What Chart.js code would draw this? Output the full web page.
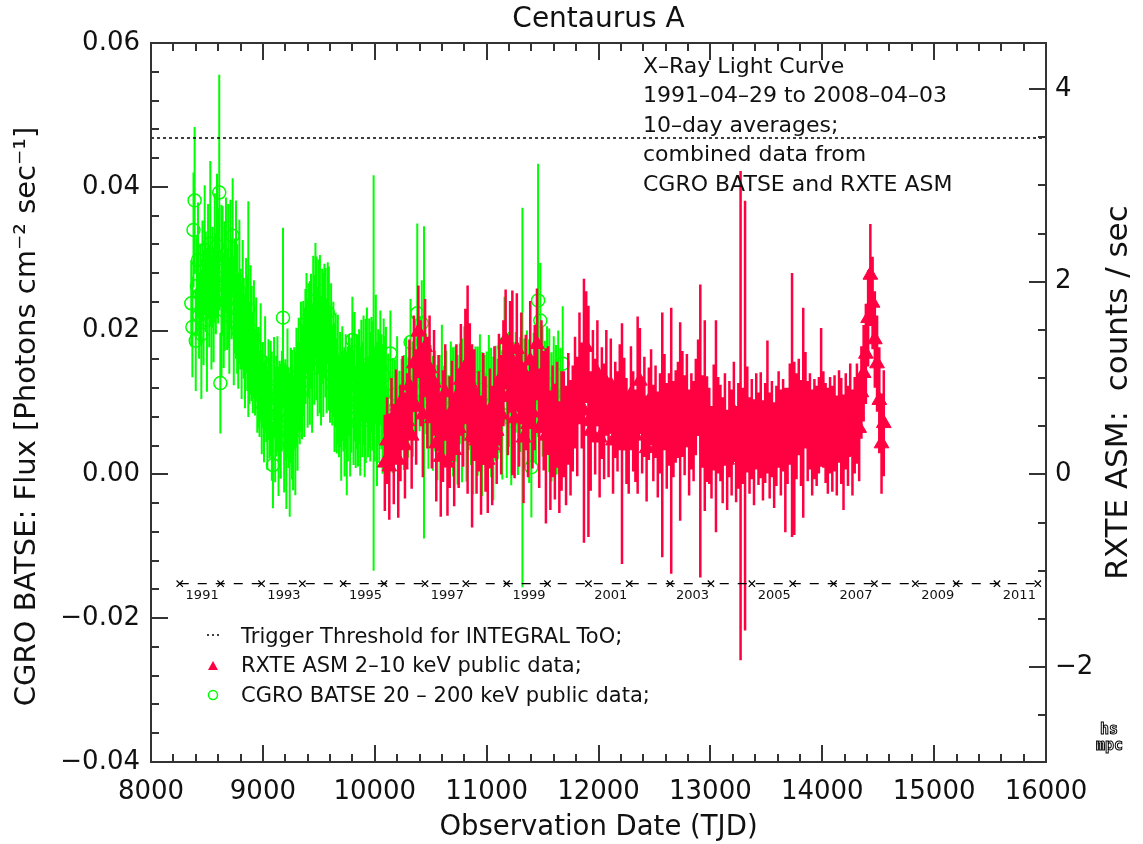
<!DOCTYPE html>
<html>
<head>
<meta charset="utf-8">
<title>Centaurus A - X-Ray Light Curve</title>
<script src="https://cdn.jsdelivr.net/npm/chart.js@4.4.0/dist/chart.umd.min.js"></script>
<style>
    html, body { margin: 0; padding: 0; background: #fff; }
    #wrap { width: 1143px; height: 844px; }
</style>
</head>
<body>
<div id="wrap"><canvas id="lightCurve" width="1143" height="844"></canvas></div>
<script>
// CGRO BATSE 20-200 keV, flux in photons cm^-2 s^-1 (left axis)
const batseTJD = [
    8360, 8370, 8380, 8390, 8400, 8410, 8420, 8430, 8440, 8450,
    8460, 8470, 8480, 8490, 8500, 8510, 8520, 8530, 8540, 8550,
    8560, 8570, 8580, 8590, 8600, 8610, 8620, 8630, 8640, 8650,
    8660, 8670, 8680, 8690, 8700, 8710, 8720, 8730, 8740, 8750,
    8760, 8770, 8780, 8790, 8800, 8810, 8820, 8830, 8840, 8850,
    8860, 8870, 8880, 8890, 8900, 8910, 8920, 8930, 8940, 8950,
    8960, 8970, 8980, 8990, 9000, 9010, 9020, 9030, 9040, 9050,
    9060, 9070, 9080, 9090, 9100, 9110, 9120, 9130, 9140, 9150,
    9160, 9170, 9180, 9190, 9200, 9210, 9220, 9230, 9240, 9250,
    9260, 9270, 9280, 9290, 9300, 9310, 9320, 9330, 9340, 9350,
    9360, 9370, 9380, 9390, 9400, 9410, 9420, 9430, 9440, 9450,
    9460, 9470, 9480, 9490, 9500, 9510, 9520, 9530, 9540, 9550,
    9560, 9570, 9580, 9590, 9600, 9610, 9620, 9630, 9640, 9650,
    9660, 9670, 9680, 9690, 9700, 9710, 9720, 9730, 9740, 9750,
    9760, 9770, 9780, 9790, 9800, 9810, 9820, 9830, 9840, 9850,
    9860, 9870, 9880, 9890, 9900, 9910, 9920, 9930, 9940, 9950,
    9960, 9970, 9980, 9990, 10000, 10010, 10020, 10030, 10040, 10050,
    10060, 10070, 10080, 10090, 10100,
    10120, 10140, 10160, 10180, 10200, 10220, 10240, 10260, 10280, 10300,
    10320, 10340, 10360, 10380, 10400, 10420, 10440, 10460, 10480, 10500,
    10520, 10540, 10560, 10580, 10600, 10620, 10640, 10660, 10680, 10700,
    10720, 10740, 10760, 10780, 10800, 10820, 10840, 10860, 10880, 10900,
    10920, 10940, 10960, 10980, 11000, 11020, 11040, 11060, 11080, 11100,
    11120, 11140, 11160, 11180, 11200, 11220, 11240, 11260, 11280, 11300,
    11320, 11340, 11360, 11380, 11400, 11420, 11440, 11460, 11480, 11500,
    11520, 11540, 11560, 11580, 11600, 11620, 11640, 11660, 11680
];
const batseFlux = [
    0.0238, 0.0205, 0.0340, 0.0381, 0.0186, 0.0262, 0.0298, 0.0221, 0.0251, 0.0195,
    0.0283, 0.0232, 0.0312, 0.0268, 0.0215, 0.0296, 0.0247, 0.0321, 0.0226, 0.0274,
    0.0236, 0.0301, 0.0265, 0.0318, 0.0290, 0.0392, 0.0127, 0.0255, 0.0283, 0.0228,
    0.0262, 0.0305, 0.0243, 0.0276, 0.0220, 0.0292, 0.0258, 0.0332, 0.0214, 0.0248,
    0.0271, 0.0230, 0.0199, 0.0254, 0.0216, 0.0185, 0.0236, 0.0203, 0.0172, 0.0221,
    0.0196, 0.0230, 0.0168, 0.0201, 0.0182, 0.0155, 0.0190, 0.0142, 0.0176, 0.0128,
    0.0135, 0.0112, 0.0158, 0.0098, 0.0124, 0.0087, 0.0140, 0.0105, 0.0076, 0.0118,
    0.0092, 0.0106, 0.0081, 0.0013, 0.0121, 0.0069, 0.0095, 0.0112, 0.0060, 0.0088,
    0.0074, 0.0102, 0.0218, 0.0065, 0.0090, 0.0052, 0.0113, 0.0079, 0.0041, 0.0096,
    0.0083, 0.0058, 0.0107, 0.0071, 0.0124, 0.0095, 0.0138, 0.0112, 0.0150, 0.0129,
    0.0161, 0.0142, 0.0178, 0.0210, 0.0155, 0.0186, 0.0169, 0.0199, 0.0148, 0.0224,
    0.0187, 0.0242, 0.0203, 0.0171, 0.0219, 0.0195, 0.0158, 0.0206, 0.0180, 0.0213,
    0.0197, 0.0165, 0.0225, 0.0189, 0.0152, 0.0176, 0.0138, 0.0160, 0.0121, 0.0145,
    0.0109, 0.0132, 0.0094, 0.0118, 0.0081, 0.0126, 0.0102, 0.0087, 0.0115, 0.0071,
    0.0098, 0.0124, 0.0087, 0.0110, 0.0187, 0.0093, 0.0136, 0.0079, 0.0115, 0.0101,
    0.0122, 0.0088, 0.0145, 0.0104, 0.0131, 0.0076, 0.0116, 0.0152, 0.0094, 0.0127,
    0.0108, 0.0139, 0.0123, 0.0141, 0.0098, 0.0160, 0.0084, 0.0122, 0.0106, 0.0148,
    0.0115, 0.0091, 0.0137, 0.0102, 0.0125,
    0.0098, 0.0168, 0.0082, 0.0090, 0.0112, 0.0074, 0.0101, 0.0086, 0.0120, 0.0093,
    0.0184, 0.0105, 0.0128, 0.0224, 0.0140, 0.0210, 0.0128, 0.0126, 0.0088, 0.0110,
    0.0085, 0.0102, 0.0072, 0.0096, 0.0118, 0.0081, 0.0092, 0.0068, 0.0105, 0.0087,
    0.0098, 0.0076, 0.0112, 0.0089, 0.0126, 0.0080, 0.0104, 0.0093, 0.0072, 0.0108,
    0.0088, 0.0135, 0.0070, 0.0096, 0.0081, 0.0114, 0.0086, 0.0064, 0.0099, 0.0091,
    0.0110, 0.0083, 0.0177, 0.0095, 0.0118, 0.0075, 0.0104, 0.0128, 0.0089, 0.0111,
    0.0107, 0.0099, 0.0120, 0.0088, 0.0010, 0.0107, 0.0094, 0.0242, 0.0214, 0.0115,
    0.0096, 0.0126, 0.0103, 0.0080, 0.0112, 0.0090, 0.0100, 0.0086, 0.0154
];
const batseErr = [
    0.006, 0.007, 0.008, 0.0102, 0.007, 0.007, 0.008, 0.006, 0.007, 0.009,
    0.007, 0.008, 0.009, 0.007, 0.010, 0.008, 0.007, 0.0115, 0.008, 0.007,
    0.008, 0.009, 0.007, 0.010, 0.008, 0.0164, 0.007, 0.012, 0.009, 0.008,
    0.009, 0.008, 0.007, 0.010, 0.008, 0.009, 0.007, 0.008, 0.009, 0.008,
    0.011, 0.009, 0.008, 0.010, 0.007, 0.008, 0.009, 0.007, 0.008, 0.008,
    0.008, 0.015, 0.007, 0.009, 0.008, 0.007, 0.008, 0.006, 0.007, 0.007,
    0.007, 0.006, 0.008, 0.007, 0.006, 0.007, 0.008, 0.006, 0.007, 0.007,
    0.007, 0.008, 0.009, 0.006, 0.007, 0.008, 0.007, 0.008, 0.009, 0.007,
    0.008, 0.007, 0.0125, 0.009, 0.007, 0.010, 0.009, 0.007, 0.010, 0.008,
    0.009, 0.008, 0.007, 0.010, 0.008, 0.009, 0.008, 0.007, 0.009, 0.008,
    0.008, 0.009, 0.008, 0.007, 0.009, 0.008, 0.010, 0.008, 0.009, 0.008,
    0.009, 0.008, 0.010, 0.009, 0.008, 0.011, 0.009, 0.008, 0.010, 0.008,
    0.009, 0.008, 0.007, 0.010, 0.008, 0.009, 0.007, 0.008, 0.009, 0.008,
    0.008, 0.009, 0.007, 0.008, 0.009, 0.008, 0.007, 0.009, 0.008, 0.010,
    0.008, 0.007, 0.009, 0.008, 0.006, 0.008, 0.009, 0.007, 0.008, 0.009,
    0.008, 0.009, 0.007, 0.008, 0.009, 0.008, 0.010, 0.008, 0.007, 0.009,
    0.009, 0.008, 0.009, 0.0275, 0.008, 0.009, 0.010, 0.008, 0.009, 0.008,
    0.008, 0.009, 0.008, 0.009, 0.008,
    0.007, 0.006, 0.008, 0.007, 0.008, 0.007, 0.006, 0.008, 0.007, 0.007,
    0.006, 0.008, 0.007, 0.0125, 0.008, 0.006, 0.0217, 0.007, 0.008, 0.007,
    0.008, 0.007, 0.008, 0.007, 0.009, 0.007, 0.008, 0.007, 0.008, 0.009,
    0.008, 0.009, 0.007, 0.010, 0.008, 0.009, 0.007, 0.008, 0.010, 0.007,
    0.009, 0.006, 0.010, 0.007, 0.009, 0.008, 0.009, 0.010, 0.008, 0.007,
    0.008, 0.009, 0.007, 0.010, 0.008, 0.009, 0.008, 0.007, 0.009, 0.008,
    0.0264, 0.009, 0.008, 0.010, 0.007, 0.009, 0.008, 0.019, 0.008, 0.009,
    0.009, 0.008, 0.010, 0.009, 0.008, 0.009, 0.010, 0.009, 0.008
];

// RXTE ASM 2-10 keV, counts / sec (right axis)
const asmTJD = [
    10090, 10110, 10130, 10150, 10170, 10190, 10210, 10230, 10250, 10270,
    10290, 10310, 10330, 10350, 10370, 10390, 10410, 10430, 10450, 10470,
    10490, 10510, 10530, 10550, 10570, 10590, 10610, 10630, 10650, 10670,
    10690, 10710, 10730, 10750, 10770, 10790, 10810, 10830, 10850, 10870,
    10890, 10910, 10930, 10950, 10970, 10990, 11010, 11030, 11050, 11070,
    11090, 11110, 11130, 11150, 11170, 11190, 11210, 11230, 11250, 11270,
    11290, 11310, 11330, 11350, 11370, 11390, 11410, 11430, 11450, 11470,
    11490, 11510, 11530, 11550, 11570, 11590, 11610, 11630, 11650, 11670,
    11690, 11710, 11730, 11750, 11770, 11790, 11810, 11830, 11850, 11870,
    11890, 11910, 11930, 11950, 11970, 11990, 12010, 12030, 12050, 12070,
    12090, 12110, 12130, 12150, 12170, 12190, 12210, 12230, 12250, 12270,
    12290, 12310, 12330, 12350, 12370, 12390, 12410, 12430, 12450, 12470,
    12490, 12510, 12530, 12550, 12570, 12590, 12610, 12630, 12650, 12670,
    12690, 12710, 12730, 12750, 12770, 12790, 12810, 12830, 12850, 12870,
    12890, 12910, 12930, 12950, 12970, 12990, 13010, 13030, 13050, 13070,
    13090, 13110, 13130, 13150, 13170, 13190, 13210, 13230, 13250, 13270,
    13290, 13310, 13330, 13350, 13370, 13390, 13410, 13430, 13450, 13470,
    13490, 13510, 13530, 13550, 13570, 13590, 13610, 13630, 13650, 13670,
    13690, 13710, 13730, 13750, 13770, 13790, 13810, 13830, 13850, 13870,
    13890, 13910, 13930, 13950, 13970, 13990, 14010, 14030, 14050, 14070,
    14090, 14110, 14130, 14150, 14170, 14190, 14210, 14230, 14250, 14270,
    14290, 14310, 14330, 14350, 14370, 14390, 14410, 14430, 14450, 14470,
    14490, 14510, 14530, 14550
];
const asmRate = [
    0.12, 0.35, 0.08, 0.52, 0.21, 0.64, 0.15, 0.43, 0.78, 0.30,
    0.55, 0.92, 0.40, 1.15, 0.70, 1.48, 1.05, 0.62, 1.32, 0.85,
    1.10, 0.58, 0.95, 0.32, 0.74, 0.18, 0.50, 0.85, 0.12, 0.44,
    0.66, 0.25, 0.80, 0.48, 0.98, 0.60, 1.12, 0.88, 0.95, 0.40,
    0.72, 0.35, 0.55, 0.20, 0.68, 0.42, 0.15, 0.58, 0.30, 0.75,
    0.45, 0.88, 0.62, 1.05, 1.40, 0.80, 1.22, 0.95, 0.58, 1.30,
    0.70, 1.10, 0.38, 0.85, 0.52, 1.18, 0.64, 0.90, 1.35, 0.48,
    1.02, 0.66, 0.40, 0.78, 0.25, 0.55, 0.34, 0.62, 0.18, 0.45,
    0.52, 0.30, 0.68, 0.38, 0.58, 0.85, 0.60, 1.10, 0.82, 0.66,
    1.32, 0.55, 0.45, 0.92, 0.60, 1.05, 0.38, 0.74, 0.55, 0.95,
    0.47, 0.93, 0.35, 0.67, 0.55, 0.80, 0.32, 0.73, 0.45, 0.30,
    0.83, 0.55, 0.40, 0.72, 0.97, 0.51, 0.70, 0.27, 0.63, 0.80,
    0.43, 0.65, 0.31, 0.53, 0.41, 0.75, 0.40, 0.57, 0.35, 0.47,
    0.60, 0.67, 0.55, 0.73, 0.51, 0.77, 0.33, 0.55, 0.45, 0.70,
    0.90, 0.45, 0.55, 0.61, 0.47, 0.40, 0.23, 0.59, 0.50, 0.51,
    0.43, 0.25, 0.57, 0.15, 0.47, 0.33, 0.65, 0.21, 0.40, 0.61,
    0.40, 0.61, 0.57, 0.30, 0.47, 0.23, 0.55, 0.37, 0.51, 0.25,
    0.43, 0.70, 0.30, 0.47, 0.20, 0.40, 0.57, 0.33, 0.51, 0.15,
    0.40, 0.63, 0.72, 0.27, 0.50, 0.70, 0.43, 0.64, 0.77, 0.45,
    0.55, 0.33, 0.47, 0.40, 0.51, 0.80, 0.57, 0.43, 0.35, 0.51,
    0.37, 0.53, 0.30, 0.60, 0.45, 0.23, 0.55, 0.40, 0.67, 0.33,
    0.51, 0.63, 0.48, 0.85, 1.05, 1.25, 1.62, 2.07, 1.78, 1.40,
    1.15, 0.77, 0.32, 0.53
];
const asmErr = [
    0.50, 0.45, 0.55, 0.48, 0.52, 0.45, 0.60, 0.50, 0.45, 0.55,
    0.50, 0.48, 0.55, 0.50, 0.60, 0.48, 0.55, 0.65, 0.50, 0.58,
    0.55, 0.52, 0.55, 0.60, 0.50, 0.62, 0.58, 0.50, 0.55, 0.58,
    0.52, 0.58, 0.55, 0.62, 0.58, 0.52, 0.60, 1.08, 0.62, 0.95,
    0.58, 0.55, 0.52, 0.62, 0.58, 0.60, 0.55, 0.52, 0.62, 0.58,
    0.55, 0.58, 0.62, 0.55, 0.52, 0.60, 0.58, 0.96, 0.62, 0.58,
    0.62, 0.58, 0.68, 0.60, 0.55, 0.62, 0.58, 0.65, 0.58, 0.62,
    0.58, 0.62, 0.91, 0.55, 0.62, 0.58, 0.60, 0.55, 0.58, 0.62,
    0.55, 0.62, 0.58, 0.60, 0.55, 0.58, 0.62, 0.58, 0.55, 1.37,
    0.58, 1.20, 0.62, 0.58, 0.60, 0.55, 0.62, 0.58, 0.60, 0.55,
    0.50, 0.48, 0.55, 0.50, 0.52, 0.55, 1.25, 0.48, 0.55, 0.50,
    0.50, 0.52, 0.48, 0.92, 0.55, 0.50, 0.52, 0.55, 0.48, 0.50,
    0.50, 0.48, 0.55, 0.52, 1.27, 0.50, 0.55, 0.48, 1.38, 0.50,
    0.48, 0.50, 1.03, 0.55, 0.52, 0.48, 0.55, 0.50, 0.52, 0.50,
    0.50, 1.52, 0.48, 0.99, 0.55, 0.50, 0.48, 0.55, 1.10, 0.50,
    0.50, 0.55, 0.48, 0.52, 0.50, 0.55, 0.52, 0.50, 0.55, 2.54,
    0.50, 2.23, 0.55, 0.50, 0.52, 0.55, 0.50, 0.48, 0.55, 0.52,
    0.52, 0.69, 0.55, 0.50, 0.55, 0.52, 0.50, 0.55, 0.48, 0.75,
    0.50, 0.52, 1.37, 0.90, 0.55, 0.50, 0.55, 1.09, 0.50, 0.52,
    0.50, 0.55, 0.52, 0.52, 0.50, 0.72, 0.50, 0.52, 0.55, 0.50,
    0.55, 0.50, 0.52, 0.48, 0.55, 0.60, 0.50, 0.52, 0.48, 0.55,
    0.50, 0.52, 0.55, 0.48, 0.50, 0.52, 0.50, 0.53, 0.48, 0.50,
    0.50, 0.55, 0.52, 0.55
];

// INTEGRAL ToO trigger level (flux)
const triggerFlux = 0.0468;

// calendar year starts (TJD) drawn as the dashed time line
const yearStarts = [8257, 8622, 8988, 9353, 9718, 10083, 10449, 10814, 11179, 11544, 11910,
                    12275, 12640, 13005, 13371, 13736, 14101, 14466, 14832, 15197, 15562, 15927];
const yearNames = ['1991', '1992', '1993', '1994', '1995', '1996', '1997', '1998', '1999', '2000', '2001',
                   '2002', '2003', '2004', '2005', '2006', '2007', '2008', '2009', '2010', '2011', '2012'];
const yearLineFlux = -0.0152;

// axis tick labels
const xTicks = [8000, 9000, 10000, 11000, 12000, 13000, 14000, 15000, 16000];
const yTicks = [-0.04, -0.02, 0.00, 0.02, 0.04, 0.06];
const y2Ticks = [-2, 0, 2, 4];

const notes = ['X–Ray Light Curve', '1991–04–29 to 2008–04–03', '10–day averages;',
               'combined data from', 'CGRO BATSE and RXTE ASM'];
const legendItems = ['Trigger Threshold for INTEGRAL ToO;', 'RXTE ASM 2–10 keV public data;',
                     'CGRO BATSE 20 – 200 keV public data;'];

const RED = 'rgb(255, 0, 64)';
const GREEN = 'rgb(0, 255, 0)';
const AXIS = '#333';

// flux -> ASM counts/sec scale of the right axis
const rateScale = 74.63;

function errorSegments(t, v, e) {
    const pts = [];
    for (let i = 0; i < t.length; i++) {
        pts.push({x: t[i], y: v[i] - e[i]});
        pts.push({x: t[i], y: v[i] + e[i]});
        pts.push({x: t[i], y: null});
    }
    return pts;
}

function markers(t, v) {
    return t.map((x, i) => ({x: x, y: v[i]}));
}

const frame = {
    id: 'frame',
    afterDatasetsDraw(chart) {
        const ctx = chart.ctx;
        const {left, right, top, bottom} = chart.chartArea;
        const sx = chart.scales.x, sy = chart.scales.y, sy2 = chart.scales.y2;
        ctx.save();
        ctx.strokeStyle = AXIS;
        ctx.lineWidth = 2;
        ctx.strokeRect(left, top, right - left, bottom - top);

        function seg(x1, y1, x2, y2) {
            ctx.beginPath();
            ctx.moveTo(x1, y1);
            ctx.lineTo(x2, y2);
            ctx.stroke();
        }
        // x ticks, minor every 200
        for (let i = 0; i <= 40; i++) {
            const px = Math.round(sx.getPixelForValue(8000 + i * 200));
            const len = i % 5 === 0 ? 17 : 8;
            seg(px, bottom, px, bottom - len);
            seg(px, top, px, top + len);
        }
        // left ticks, minor every 0.004
        for (let i = 0; i <= 25; i++) {
            const py = Math.round(sy.getPixelForValue(-0.04 + i * 0.004));
            seg(left, py, left + (i % 5 === 0 ? 17 : 8), py);
        }
        // right ticks, minor every 0.5 counts/sec
        for (let i = -5; i <= 8; i++) {
            const py = Math.round(sy2.getPixelForValue(i * 0.5));
            seg(right, py, right - (i % 4 === 0 ? 17 : 8), py);
        }

        // year labels under the time line
        ctx.fillStyle = '#111';
        ctx.font = '13px "DejaVu Sans"';
        ctx.textAlign = 'center';
        ctx.textBaseline = 'middle';
        const ly = sy.getPixelForValue(yearLineFlux) + 12;
        for (let i = 0; i < yearStarts.length; i += 2) {
            ctx.fillText(yearNames[i], sx.getPixelForValue(yearStarts[i] + 200), ly);
        }

        // notes, top right
        ctx.textAlign = 'left';
        ctx.font = '22px "DejaVu Sans"';
        notes.forEach((s, i) => ctx.fillText(s, 643, 67 + i * 29.5));

        // legend, lower left
        ctx.font = '21px "DejaVu Sans"';
        const lx = 213, tx = 241, rows = [638, 667, 697];
        legendItems.forEach((s, i) => ctx.fillText(s, tx, rows[i]));
        ctx.strokeStyle = '#000';
        ctx.lineWidth = 1.5;
        ctx.setLineDash([2, 3]);
        seg(lx - 6, rows[0] - 3, lx + 6, rows[0] - 3);
        ctx.setLineDash([]);
        ctx.fillStyle = RED;
        ctx.beginPath();
        ctx.moveTo(lx, rows[1] - 6);
        ctx.lineTo(lx + 5, rows[1] + 3);
        ctx.lineTo(lx - 5, rows[1] + 3);
        ctx.closePath();
        ctx.fill();
        ctx.strokeStyle = GREEN;
        ctx.lineWidth = 1.5;
        ctx.beginPath();
        ctx.arc(lx, rows[2] - 2, 4.5, 0, Math.PI * 2);
        ctx.stroke();

        // axis titles, both read bottom to top
        ctx.fillStyle = '#111';
        ctx.textAlign = 'center';
        ctx.save();
        ctx.font = '29px "DejaVu Sans"';
        ctx.translate(27, (top + bottom) / 2 + 14);
        ctx.rotate(-Math.PI / 2);
        ctx.fillText('CGRO BATSE: Flux [Photons cm⁻² sec⁻¹]', 0, 0);
        ctx.restore();
        ctx.font = '31px "DejaVu Sans"';
        ctx.translate(chart.width - 24, (top + bottom) / 2 - 10);
        ctx.rotate(-Math.PI / 2);
        ctx.fillText('RXTE ASM:  counts / sec', 0, 0);
        ctx.restore();

        // small institute logo
        ctx.save();
        ctx.strokeStyle = '#000';
        ctx.lineWidth = 1;
        ctx.font = 'bold 15px "DejaVu Sans Mono"';
        ctx.textAlign = 'left';
        ctx.textBaseline = 'alphabetic';
        ctx.strokeText('hs', 1100, 734);
        ctx.strokeText('mpc', 1096, 750);
        ctx.restore();
    }
};

Chart.defaults.font.family = '"DejaVu Sans", sans-serif';
Chart.defaults.color = '#111';

const ctx = document.getElementById('lightCurve').getContext('2d');
const lightCurve = new Chart(ctx, {
    type: 'line',
    data: {
        datasets: [{
            label: 'Trigger Threshold for INTEGRAL ToO',
            data: [{x: 8000, y: triggerFlux}, {x: 16000, y: triggerFlux}],
            yAxisID: 'y',
            borderColor: '#000',
            borderWidth: 1.5,
            borderDash: [3, 3],
            pointRadius: 0,
            order: 1
        }, {
            label: 'years',
            data: yearStarts.map(t => ({x: t, y: yearLineFlux})),
            yAxisID: 'y',
            borderColor: '#000',
            borderWidth: 1.2,
            borderDash: [9, 9],
            pointStyle: 'crossRot',
            pointRadius: 4.5,
            pointBorderWidth: 1.2,
            pointBorderColor: '#000',
            order: 2
        }, {
            label: 'RXTE ASM 2-10 keV',
            data: markers(asmTJD, asmRate),
            yAxisID: 'y2',
            showLine: false,
            pointStyle: 'triangle',
            pointRadius: 8.5,
            pointBackgroundColor: RED,
            pointBorderColor: RED,
            pointBorderWidth: 1,
            order: 3
        }, {
            label: 'RXTE ASM errors',
            data: errorSegments(asmTJD, asmRate, asmErr),
            yAxisID: 'y2',
            borderColor: RED,
            borderWidth: 2.5,
            pointRadius: 0,
            spanGaps: false,
            order: 4
        }, {
            label: 'CGRO BATSE errors',
            data: errorSegments(batseTJD, batseFlux, batseErr),
            yAxisID: 'y',
            borderColor: GREEN,
            borderWidth: 2,
            pointRadius: 0,
            spanGaps: false,
            order: 5
        }, {
            label: 'CGRO BATSE 20-200 keV',
            data: markers(batseTJD, batseFlux),
            yAxisID: 'y',
            showLine: false,
            pointStyle: 'circle',
            pointRadius: 6.5,
            pointBackgroundColor: 'rgba(0,0,0,0)',
            pointBorderColor: GREEN,
            pointBorderWidth: 1.5,
            order: 6
        }]
    },
    options: {
        responsive: false,
        animation: false,
        events: [],
        layout: { padding: 0 },
        plugins: {
            legend: { display: false },
            tooltip: { enabled: false },
            title: {
                display: true,
                text: 'Centaurus A',
                fullSize: false,
                color: '#111',
                font: { size: 28, weight: 'normal' },
                padding: { top: 3, bottom: 6.4 }
            }
        },
        scales: {
            x: {
                type: 'linear',
                position: 'bottom',
                min: 8000,
                max: 16000,
                afterBuildTicks: s => { s.ticks = xTicks.map(v => ({value: v})); },
                afterFit: s => { s.height = 82; },
                grid: { display: false, drawTicks: false },
                border: { display: false },
                ticks: {
                    font: { size: 26 },
                    padding: 15,
                    maxRotation: 0,
                    autoSkip: false,
                    callback: v => String(v)
                },
                title: {
                    display: true,
                    text: 'Observation Date (TJD)',
                    font: { size: 27.5 },
                    padding: { top: 0, bottom: 0 }
                }
            },
            y: {
                type: 'linear',
                position: 'left',
                min: -0.04,
                max: 0.06,
                afterBuildTicks: s => { s.ticks = yTicks.map(v => ({value: v})); },
                afterFit: s => { s.width = 151; },
                grid: { display: false, drawTicks: false },
                border: { display: false },
                ticks: {
                    font: { size: 26 },
                    padding: 11,
                    callback: v => v.toFixed(2).replace('-', '−')
                }
            },
            y2: {
                type: 'linear',
                position: 'right',
                min: -0.04 * rateScale,
                max: 0.06 * rateScale,
                afterBuildTicks: s => { s.ticks = y2Ticks.map(v => ({value: v})); },
                afterFit: s => { s.width = 97; },
                grid: { display: false, drawTicks: false },
                border: { display: false },
                ticks: {
                    font: { size: 26 },
                    padding: 9,
                    callback: v => String(v).replace('-', '−')
                }
            }
        }
    },
    plugins: [frame]
});
</script>
</body>
</html>
